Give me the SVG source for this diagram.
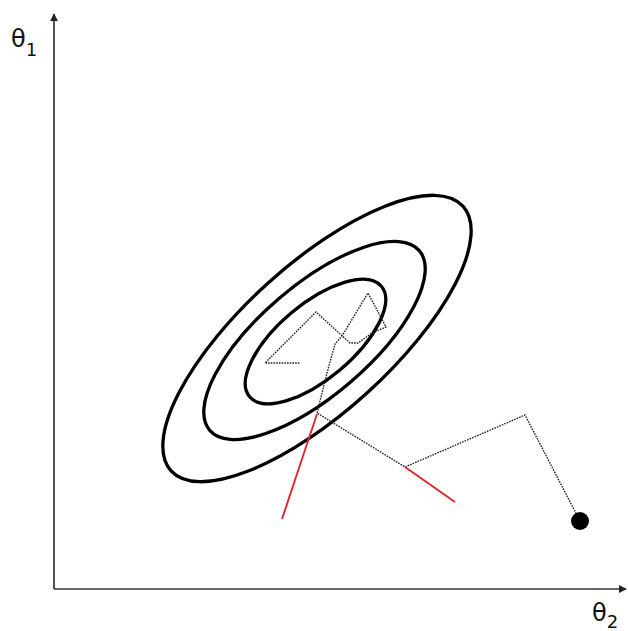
<svg xmlns="http://www.w3.org/2000/svg" width="628" height="631" viewBox="0 0 628 631">
<style>
.axis{stroke:#333;stroke-width:1.7;fill:none}
.contour{stroke:#000;stroke-width:3.3;fill:none}
.path{stroke:#222;stroke-width:1.4;fill:none;stroke-dasharray:1.6 1.1}
.red{stroke:#e0262a;stroke-width:1.9;fill:none}
.lbl{font-family:"DejaVu Sans",sans-serif;fill:#111}
</style>
<defs>
<marker id="arr" viewBox="0 0 10 10" refX="9" refY="5" markerWidth="8" markerHeight="8" markerUnits="userSpaceOnUse" orient="auto">
<path d="M0,0 L10,5 L0,10 z" fill="#222"/>
</marker>
</defs>
<rect width="628" height="631" fill="#fff"/>
<g id="axes">
<line class="axis" x1="54" y1="589" x2="54" y2="14" marker-end="url(#arr)"/>
<line class="axis" x1="54" y1="589" x2="626" y2="589" marker-end="url(#arr)"/>
</g>
<g id="label-theta1"><text class="lbl" x="11" y="47" font-size="24">θ<tspan font-size="18" dy="9">1</tspan></text></g>
<g id="label-theta2"><text class="lbl" x="592" y="621" font-size="24">θ<tspan font-size="18" dy="7">2</tspan></text></g>
<g id="contours">
<ellipse id="outer" class="contour" cx="317" cy="338.5" rx="197" ry="74" transform="rotate(-42.2 317 338.5)"/>
<ellipse id="middle" class="contour" cx="314.5" cy="340.5" rx="138" ry="55" transform="rotate(-40.6 314.5 340.5)"/>
<ellipse id="inner" class="contour" cx="315.5" cy="341.5" rx="86" ry="37.5" transform="rotate(-40 315.5 341.5)"/>
</g>
<g id="connectors">
<polyline class="path" points="580,521 525,415 405,467 317,413 327,373 335,344 342,336 368,293 386,327 372,333 358,343 350,343 316,312 265,363 300,363"/>
<line class="red" x1="317" y1="414" x2="282" y2="519"/>
<line class="red" x1="405" y1="467" x2="455" y2="502"/>
</g>
<g id="start-point"><circle cx="580" cy="521" r="9" fill="#000"/></g>
</svg>
